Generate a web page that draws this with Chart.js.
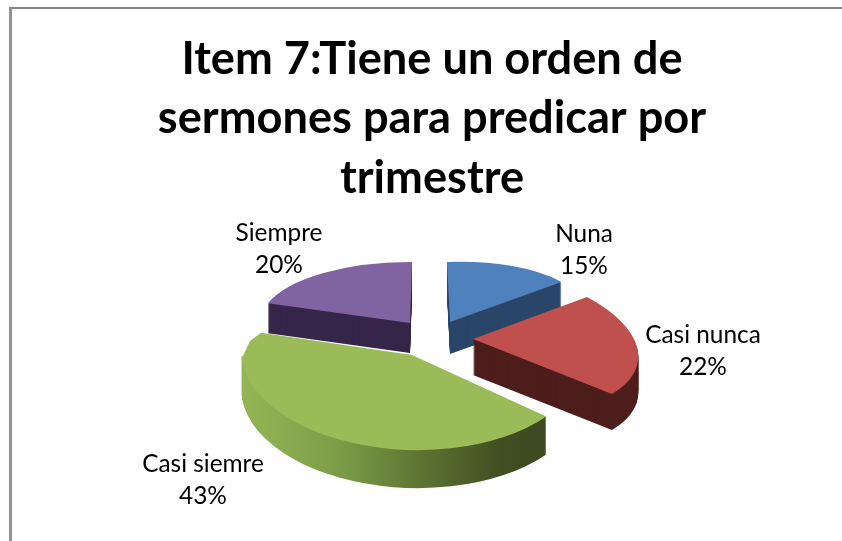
<!DOCTYPE html>
<html>
<head>
<meta charset="utf-8">
<script src="https://cdn.jsdelivr.net/npm/chart.js@4"></script>
<style>
html,body{margin:0;padding:0;background:#fff;overflow:hidden}
#wrap{position:relative;width:842px;height:541px}
#frame{position:absolute;left:9px;top:7px;right:0;bottom:0;border-top:2px solid #868686;border-left:3px solid #929292;pointer-events:none}
canvas{display:block}
</style>
</head>
<body>
<div id="wrap"><canvas id="c" width="842" height="541"></canvas><div id="frame"></div></div>
<script>
const categories = ['Nuna', 'Casi nunca', 'Casi siemre', 'Siempre'];
const values = [15, 22, 43, 20];
const titleLines = ['Item 7:Tiene un orden de', 'sermones para predicar por', 'trimestre'];
const topColors = ['#4f81bd', '#c0504d', '#9bbb59', '#8064a2'];
const sideColors = ['#2a4669', '#4d1e1c', null, '#35264a'];
const greenSideStops = [[0, '#94b655'], [0.3, '#7b9a46'], [0.55, '#5c7332'], [0.8, '#414f23'], [1, '#3c4820']];

// Look of the 3D pie: each slice has its own apex, its two projected axes and its depth.
const slicePose = [
  { apex: [450, 322], ax: [140, -6],  ay: [3, 60],   depth: 32 },
  { apex: [473, 339], ax: [162.6, 3.6], ay: [29.9, 76.4], depth: 36 },
  { apex: [412, 355], ax: [170, -5],  ay: [15, 95],  depth: 38,
    trim: [[262, 332], [250, 341], [243, 356], [225, 356], [225, 300], [262, 300]] },
  { apex: [410, 323], ax: [150, 1],   ay: [-2, 61],  depth: 30 }
];
const paintOrder = [3, 0, 1, 2];
const labelAnchors = [[584, 234], [703, 335], [203, 464], [279, 233]];
const labelLeading = 32;

const pie3d = {
  id: 'pie3d',
  beforeDatasetDraw(chart) {
    const ctx = chart.ctx;
    const arcs = chart.getDatasetMeta(0).data;
    paintOrder.forEach(i => {
      const arc = arcs[i], pose = slicePose[i];
      const R = arc.outerRadius, cx = arc.x, cy = arc.y;
      const base = arc.options;
      const place = dy => {
        ctx.save();
        ctx.translate(0, dy);
        if (pose.trim) {
          ctx.beginPath();
          ctx.rect(0, -50, chart.width, chart.height + 100);
          pose.trim.forEach((p, n) => n ? ctx.lineTo(p[0], p[1]) : ctx.moveTo(p[0], p[1]));
          ctx.closePath();
          ctx.clip('evenodd');
        }
        ctx.transform(pose.ax[0] / R, pose.ax[1] / R, pose.ay[0] / R, pose.ay[1] / R,
          pose.apex[0] - (pose.ax[0] * cx + pose.ay[0] * cy) / R,
          pose.apex[1] - (pose.ax[1] * cx + pose.ay[1] * cy) / R);
      };
      let side = sideColors[i];
      if (!side) {
        side = ctx.createLinearGradient(cx - R * 1.02, 0, cx + R * 0.8, 0);
        greenSideStops.forEach(s => side.addColorStop(s[0], s[1]));
      }
      arc.options = Object.assign({}, base, { backgroundColor: side, borderWidth: 0 });
      for (let d = pose.depth; d >= 1; d--) {
        place(d);
        arc.draw(ctx);
        ctx.restore();
      }
      arc.options = Object.assign({}, base, { borderWidth: 0 });
      place(0);
      arc.draw(ctx);
      ctx.restore();
      arc.options = base;
    });
    return false;
  },
  afterDatasetsDraw(chart) {
    const ctx = chart.ctx;
    ctx.save();
    ctx.fillStyle = '#000';
    ctx.font = '24.4px Lato, "Open Sans", sans-serif';
    ctx.textAlign = 'center';
    ctx.textBaseline = 'middle';
    categories.forEach((name, i) => {
      ctx.fillText(name, labelAnchors[i][0], labelAnchors[i][1]);
      ctx.fillText(values[i] + '%', labelAnchors[i][0], labelAnchors[i][1] + labelLeading);
    });
    ctx.restore();
  }
};

new Chart(document.getElementById('c'), {
  type: 'pie',
  data: {
    labels: categories,
    datasets: [{ data: values, backgroundColor: topColors, borderWidth: 0, radius: 100 }]
  },
  plugins: [pie3d],
  options: {
    responsive: false,
    animation: false,
    rotation: 0,
    layout: { padding: { left: 22, top: 0 } },
    plugins: {
      legend: { display: false },
      tooltip: { enabled: false },
      title: {
        display: true,
        text: titleLines,
        color: '#000',
        align: 'center',
        font: { family: 'Lato, "Open Sans", sans-serif', size: 45.2, weight: 'bold', lineHeight: 1.31 },
        padding: { top: 30, bottom: 0 }
      }
    }
  }
});
</script>
</body>
</html>
